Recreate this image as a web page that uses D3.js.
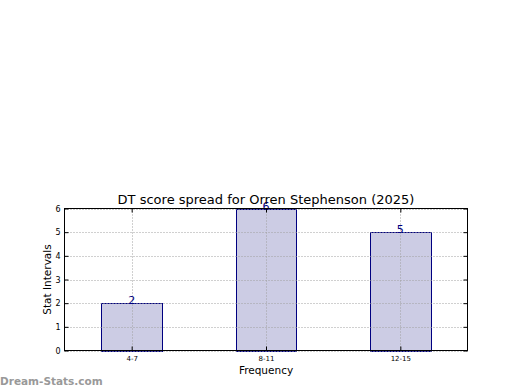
<!DOCTYPE html>
<html><head><meta charset="utf-8">
<script src="https://cdn.jsdelivr.net/npm/d3@7"></script>
<style>body{margin:0;background:#fff}svg{display:block}text{font-family:"DejaVu Sans",sans-serif}</style>
</head><body>
<script>
const categories = ["4-7", "8-11", "12-15"];
const values = [2, 6, 5];
const yTicks = [0, 1, 2, 3, 4, 5, 6];
const titleText = "DT score spread for Orren Stephenson (2025)";
const xLabel = "Frequency";
const yLabel = "Stat Intervals";

const W = 520, H = 390;
const m = {left: 64.5, right: 467.5, top: 208.5, bottom: 350.5};
const svg = d3.select("body").append("svg").attr("width", W).attr("height", H);

const x = d3.scaleLinear().domain([-0.5, 2.5]).range([m.left, m.right]);
const y = d3.scaleLinear().domain([0, 6]).range([m.bottom, m.top]);
const bw = 0.45;

// bars
svg.selectAll(".bar").data(values).enter().append("rect")
  .attr("x", (d, i) => Math.round(x(i - bw / 2)) + 0.5)
  .attr("y", d => Math.round(y(d)) + 0.5)
  .attr("width", (d, i) => Math.round(x(i + bw / 2)) - Math.round(x(i - bw / 2)))
  .attr("height", d => Math.round(y(0)) - Math.round(y(d)))
  .attr("fill", "#ccccE4").attr("stroke", "#000080").attr("stroke-width", 1);

// grid
svg.selectAll(".gy").data(yTicks).enter().append("line")
  .attr("x1", m.left).attr("x2", m.right)
  .attr("y1", d => Math.round(y(d)) + 0.5).attr("y2", d => Math.round(y(d)) + 0.5)
  .attr("stroke", "#a0a0a0").attr("stroke-dasharray", "1,2").attr("stroke-width", 1);
svg.selectAll(".gx").data(categories).enter().append("line")
  .attr("x1", (d, i) => Math.round(x(i)) + 0.5).attr("x2", (d, i) => Math.round(x(i)) + 0.5)
  .attr("y1", m.top).attr("y2", m.bottom)
  .attr("stroke", "#a0a0a0").attr("stroke-dasharray", "1,2").attr("stroke-width", 1);

// value labels
svg.selectAll(".vl").data(values).enter().append("text")
  .attr("x", (d, i) => x(i)).attr("y", d => y(d) + 1)
  .attr("text-anchor", "middle").attr("font-size", 11).attr("fill", "#000080")
  .text(d => d);

// frame
svg.append("rect").attr("x", m.left).attr("y", m.top)
  .attr("width", m.right - m.left).attr("height", m.bottom - m.top)
  .attr("fill", "none").attr("stroke", "#000").attr("stroke-width", 1);

// y axis
const yAxis = d3.axisLeft(y).tickValues(yTicks).tickFormat(d3.format("d")).tickSize(-4).tickPadding(4);
const ya = svg.append("g").attr("transform", `translate(${m.left},0)`).call(yAxis);
ya.select(".domain").remove();
ya.selectAll("text").attr("font-size", 8).attr("fill", "#000").attr("font-family", "DejaVu Sans");
ya.selectAll("line").attr("stroke", "#000");
const yAxisR = d3.axisRight(y).tickValues(yTicks).tickSize(-4).tickFormat("");
const yr = svg.append("g").attr("transform", `translate(${m.right},0)`).call(yAxisR);
yr.select(".domain").remove();

// x axis
const xAxis = d3.axisBottom(x).tickValues([0, 1, 2]).tickFormat(i => categories[i]).tickSize(-4).tickPadding(6);
const xa = svg.append("g").attr("transform", `translate(0,${m.bottom})`).call(xAxis);
xa.select(".domain").remove();
xa.selectAll("text").attr("font-size", 7).attr("fill", "#000").attr("font-family", "DejaVu Sans");
const xAxisT = d3.axisTop(x).tickValues([0, 1, 2]).tickSize(-4).tickFormat("");
const xt = svg.append("g").attr("transform", `translate(0,${m.top})`).call(xAxisT);
xt.select(".domain").remove();

// titles
svg.append("text").attr("x", (m.left + m.right) / 2).attr("y", 204)
  .attr("text-anchor", "middle").attr("font-size", 13).text(titleText);
svg.append("text").attr("x", (m.left + m.right) / 2).attr("y", 374)
  .attr("text-anchor", "middle").attr("font-size", 10.5).text(xLabel);
svg.append("text").attr("transform", `translate(51,${(m.top + m.bottom) / 2}) rotate(-90)`)
  .attr("text-anchor", "middle").attr("font-size", 10.5).text(yLabel);

// watermark
svg.append("text").attr("x", 0).attr("y", 385).attr("font-size", 10.5).attr("font-weight", "bold")
  .attr("fill", "#999").text("Dream-Stats.com");
</script>
</body></html>
